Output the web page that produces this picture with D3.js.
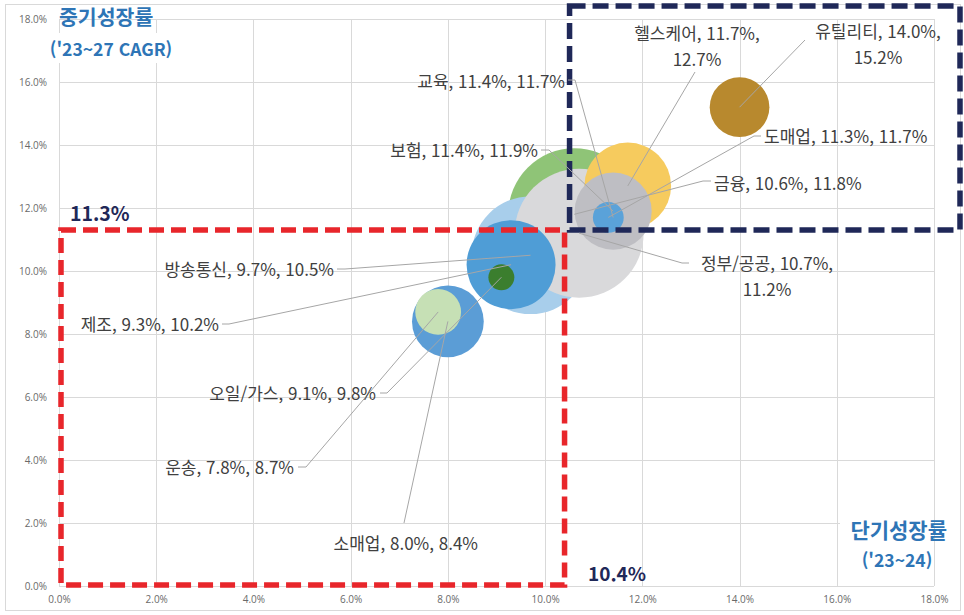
<!DOCTYPE html>
<html lang="ko">
<head>
<meta charset="utf-8">
<script src="https://cdn.jsdelivr.net/npm/d3@7/dist/d3.min.js"></script>
<style>
  html, body { margin: 0; padding: 0; background: #ffffff; }
  svg { display: block; }
  text { font-family: "Noto Sans CJK KR", "Noto Sans", sans-serif; }
</style>
</head>
<body>
<svg id="chart" width="964" height="615"></svg>
<script>
// Industry growth: short-term growth ('23~24) vs mid-term CAGR ('23~27), bubble = market size
const categories      = ['유틸리티', '헬스케어', '교육', '보험', '도매업', '금융', '정부/공공', '방송통신', '제조', '오일/가스', '운송', '소매업'];
const shortTermGrowth = [14.0, 11.7, 11.4, 11.4, 11.3, 10.6, 10.7, 9.7, 9.3, 9.1, 7.8, 8.0];
const midTermCagr     = [15.2, 12.7, 11.7, 11.9, 11.7, 11.8, 11.2, 10.5, 10.2, 9.8, 8.7, 8.4];
const marketSize      = [9, 19, 6, 15, 2.4, 44, 42, 35, 20, 1.7, 5.3, 13];

// Axis ticks (percent)
const axisTicks = [0, 2, 4, 6, 8, 10, 12, 14, 16, 18];

// Average growth used to split the quadrants
const avgShortTerm = 10.4;
const avgMidTerm = 11.3;

// Painting order of the bubbles (back to front)
const drawOrder = ['금융', '방송통신', '정부/공공', '제조', '오일/가스', '유틸리티', '헬스케어', '교육', '보험', '도매업', '소매업', '운송'];

const bubbleColor = {
  '유틸리티': '#B8892E',
  '헬스케어': '#F6CB5E',
  '교육': '#C9C9CD',
  '보험': '#BEBEC3',
  '도매업': '#5AA2D9',
  '금융': '#8FC477',
  '정부/공공': '#D9D9DB',
  '방송통신': '#A8CEEB',
  '제조': '#4F9DD6',
  '오일/가스': '#3B7E2E',
  '운송': '#C6E0B5',
  '소매업': '#5B9DD6'
};

// Data label placement: text lines, anchor point (first baseline), leader start
const labelLayout = {
  '유틸리티': { lines: ['유틸리티, 14.0%,', '15.2%'], x: 878, y: 38, anchor: 'middle', leader: [[805, 40]] },
  '헬스케어': { lines: ['헬스케어, 11.7%,', '12.7%'], x: 697, y: 40, anchor: 'middle', leader: [[695, 72]] },
  '교육':     { lines: ['교육, 11.4%, 11.7%'], x: 565, y: 88, anchor: 'end', leader: [[568, 80], [575, 80]] },
  '보험':     { lines: ['보험, 11.4%, 11.9%'], x: 538, y: 157, anchor: 'end', leader: [[541, 150], [549, 150]] },
  '도매업':   { lines: ['도매업, 11.3%, 11.7%'], x: 764, y: 143, anchor: 'start', leader: [[761, 136], [754, 136]] },
  '금융':     { lines: ['금융, 10.6%, 11.8%'], x: 714, y: 190, anchor: 'start', leader: [[711, 181], [703, 181]] },
  '정부/공공': { lines: ['정부/공공, 10.7%,', '11.2%'], x: 767, y: 270, anchor: 'middle', leader: [[689, 263], [682, 263]] },
  '방송통신': { lines: ['방송통신, 9.7%, 10.5%'], x: 334, y: 276, anchor: 'end', leader: [[337, 269], [345, 269]] },
  '제조':     { lines: ['제조, 9.3%, 10.2%'], x: 219, y: 331, anchor: 'end', leader: [[222, 324], [229, 324]] },
  '오일/가스': { lines: ['오일/가스, 9.1%, 9.8%'], x: 376, y: 400, anchor: 'end', leader: [[380, 393], [387, 393]] },
  '운송':     { lines: ['운송, 7.8%, 8.7%'], x: 294, y: 474, anchor: 'end', leader: [[298, 467], [306, 467]] },
  '소매업':   { lines: ['소매업, 8.0%, 8.4%'], x: 478, y: 550, anchor: 'end', leader: [[404, 523]] }
};

const data = categories.map((c, i) => ({
  name: c,
  x: shortTermGrowth[i],
  y: midTermCagr[i],
  size: marketSize[i]
}));
const byName = Object.fromEntries(data.map(d => [d.name, d]));

const svg = d3.select('#chart');
const frame = { left: 5, top: 5, right: 960, bottom: 611 };
const plot = { left: 59, right: 934, top: 19, bottom: 586 };

const x = d3.scaleLinear().domain([0, 18]).range([plot.left, plot.right]);
const y = d3.scaleLinear().domain([0, 18]).range([plot.bottom, plot.top]);
const r = d3.scaleSqrt().domain([0, d3.max(marketSize)]).range([0, 66]);
const pct = v => d3.format('.1f')(v) + '%';

// Chart frame
svg.append('rect')
  .attr('x', frame.left + 0.5).attr('y', frame.top - 0.5)
  .attr('width', frame.right - frame.left).attr('height', frame.bottom - frame.top)
  .attr('fill', '#fff').attr('stroke', '#D9D9D9');

// Gridlines
const grid = svg.append('g').attr('stroke', '#D9D9D9').attr('stroke-width', 1);
grid.selectAll('line.v').data(axisTicks).join('line')
  .attr('class', 'v')
  .attr('x1', d => Math.round(x(d)) + 0.5).attr('x2', d => Math.round(x(d)) + 0.5)
  .attr('y1', plot.top).attr('y2', plot.bottom);
grid.selectAll('line.h').data(axisTicks).join('line')
  .attr('class', 'h')
  .attr('x1', plot.left).attr('x2', plot.right)
  .attr('y1', d => Math.round(y(d)) + 0.5).attr('y2', d => Math.round(y(d)) + 0.5);

// Axes (labels only)
const xAxis = d3.axisBottom(x).tickValues(axisTicks).tickFormat(pct).tickSize(0).tickPadding(10);
const yAxis = d3.axisLeft(y).tickValues(axisTicks).tickFormat(pct).tickSize(0).tickPadding(12);
const gx = svg.append('g').attr('transform', `translate(0,${plot.bottom})`).call(xAxis);
const gy = svg.append('g').attr('transform', `translate(${plot.left},0)`).call(yAxis);
[gx, gy].forEach(g => {
  g.select('.domain').remove();
  g.selectAll('text')
    .attr('fill', '#6A6A6A')
    .style('font-family', '"Open Sans", "Noto Sans", sans-serif')
    .style('font-size', '10px');
});

// Bubbles
svg.append('g').selectAll('circle')
  .data(drawOrder.map(n => byName[n]))
  .join('circle')
  .attr('cx', d => x(d.x))
  .attr('cy', d => y(d.y))
  .attr('r', d => r(d.size))
  .attr('fill', d => bubbleColor[d.name]);

// Quadrant boxes
const qx = x(avgShortTerm);
const qy = y(avgMidTerm);
svg.append('rect')
  .attr('x', x(0) + 2).attr('y', qy)
  .attr('width', qx - x(0) - 2).attr('height', y(0) - qy - 1)
  .attr('fill', 'none').attr('stroke', '#E8262B').attr('stroke-width', 5.5)
  .attr('stroke-dasharray', '15,7');
svg.append('rect')
  .attr('x', qx + 5).attr('y', frame.top + 1)
  .attr('width', frame.right - qx - 5).attr('height', qy - frame.top - 1)
  .attr('fill', 'none').attr('stroke', '#1F2858').attr('stroke-width', 5.5)
  .attr('stroke-dasharray', '16,7');

// Leader lines
const leaders = svg.append('g').attr('fill', 'none').attr('stroke', '#A6A6A6').attr('stroke-width', 1);
data.forEach(d => {
  const L = labelLayout[d.name];
  const pts = L.leader.concat([[x(d.x), y(d.y)]]);
  leaders.append('path').attr('d', d3.line()(pts));
});

// Data labels
const labels = svg.append('g')
  .attr('fill', '#404040')
  .style('font-size', '17px');
data.forEach(d => {
  const L = labelLayout[d.name];
  const t = labels.append('text')
    .attr('x', L.x).attr('y', L.y)
    .attr('text-anchor', L.anchor);
  L.lines.forEach((s, i) => {
    t.append('tspan').attr('x', L.x).attr('dy', i === 0 ? 0 : 26).text(s);
  });
});

// Axis titles
const titleColor = '#2E75B6';
svg.append('rect').attr('x', 45).attr('y', 33).attr('width', 132).attr('height', 30).attr('fill', '#fff');
svg.append('text').attr('x', 59).attr('y', 25)
  .attr('fill', titleColor).style('font-size', '20.5px').style('font-weight', 700)
  .text('중기성장률');
svg.append('text').attr('x', 111).attr('y', 56).attr('text-anchor', 'middle')
  .attr('fill', titleColor).style('font-size', '17.5px').style('font-weight', 700)
  .text("('23~27 CAGR)");

svg.append('rect').attr('x', 840).attr('y', 512).attr('width', 93).attr('height', 73).attr('fill', '#fff');
svg.append('text').attr('x', 947).attr('y', 538).attr('text-anchor', 'end')
  .attr('fill', titleColor).style('font-size', '21px').style('font-weight', 700)
  .text('단기성장률');
svg.append('text').attr('x', 897).attr('y', 567).attr('text-anchor', 'middle')
  .attr('fill', titleColor).style('font-size', '17.5px').style('font-weight', 700)
  .text("('23~24)");

// Average markers
svg.append('text').attr('x', 70).attr('y', 221)
  .attr('fill', '#1F2858').style('font-size', '19.5px').style('font-weight', 700)
  .text(pct(avgMidTerm));
svg.append('text').attr('x', 588).attr('y', 581)
  .attr('fill', '#1F2858').style('font-size', '19px').style('font-weight', 700)
  .text(pct(avgShortTerm));
</script>
</body>
</html>
